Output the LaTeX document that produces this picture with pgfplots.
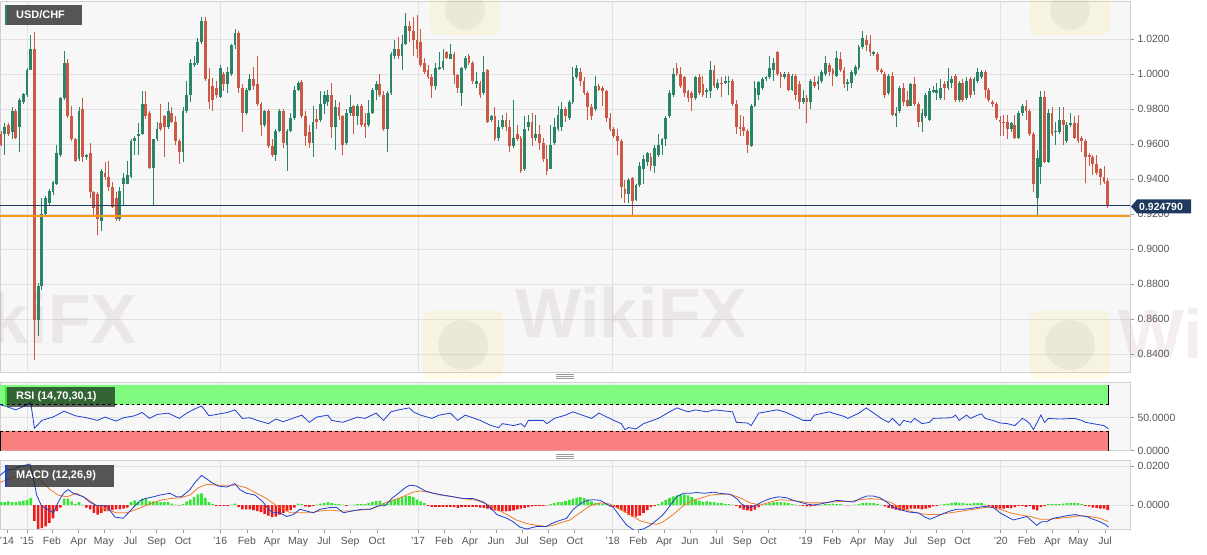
\documentclass[border=0pt]{standalone}
\usepackage{fontspec}
\setmainfont{Liberation Sans}
\usepackage{pgfplots}
\usepackage{pgfplotstable}
\pgfplotsset{compat=1.18}

\definecolor{bgc}{HTML}{F7F7F7}
\definecolor{gridc}{HTML}{E2E2E2}
\definecolor{framec}{HTML}{D0D0D0}
\definecolor{labc}{HTML}{555555}
\definecolor{upc}{HTML}{2A8466}
\definecolor{dnc}{HTML}{CC5846}
\definecolor{navy}{HTML}{1F3A5F}
\definecolor{orangec}{HTML}{F39A1E}
\definecolor{rsigreen}{HTML}{80FA80}
\definecolor{rsired}{HTML}{FA8080}
\definecolor{linec}{HTML}{2040D0}
\definecolor{sigc}{HTML}{F07D2A}
\definecolor{histg}{HTML}{33E633}
\definecolor{histr}{HTML}{F01818}

% weekly candles, w = week index (0 = first week of 2015)
\pgfplotstableread{
w o h l c
-7 0.9657 0.9677 0.9586 0.9596
-6 0.9657 0.9718 0.9536 0.9698
-5 0.9708 0.9718 0.9647 0.9657
-4 0.9667 0.9809 0.9627 0.9789
-3 0.9789 0.9800 0.9630 0.9637
-2 0.9698 0.9860 0.9556 0.9850
-1 0.9839 0.9890 0.9830 0.9884
0 0.9880 1.0032 0.9870 1.0022
1 1.0022 1.0224 1.0020 1.0143
2 1.0143 1.0241 0.8364 0.8593
3 0.8593 0.8806 0.8502 0.8786
4 0.8786 0.9292 0.8766 0.9201
5 0.9201 0.9300 0.9190 0.9292
6 0.9262 0.9340 0.9250 0.9333
7 0.9323 0.9390 0.9310 0.9384
8 0.9374 0.9596 0.9364 0.9546
9 0.9536 0.9870 0.9526 0.9860
10 0.9860 1.0133 0.9850 1.0062
11 1.0062 1.0083 0.9748 0.9758
12 0.9758 0.9819 0.9617 0.9627
13 0.9627 0.9637 0.9495 0.9505
14 0.9515 0.9809 0.9505 0.9789
15 0.9799 0.9860 0.9495 0.9526
16 0.9526 0.9545 0.9510 0.9536
17 0.9546 0.9606 0.9292 0.9323
18 0.9323 0.9330 0.9191 0.9232
19 0.9313 0.9323 0.9080 0.9171
20 0.9161 0.9455 0.9100 0.9444
21 0.9434 0.9495 0.9394 0.9414
22 0.9414 0.9505 0.9333 0.9353
23 0.9353 0.9384 0.9232 0.9242
24 0.9292 0.9323 0.9161 0.9171
25 0.9171 0.9353 0.9161 0.9333
26 0.9374 0.9434 0.9252 0.9404
27 0.9374 0.9505 0.9370 0.9424
28 0.9414 0.9627 0.9404 0.9617
29 0.9617 0.9647 0.9536 0.9637
30 0.9647 0.9718 0.9536 0.9657
31 0.9657 0.9900 0.9650 0.9829
32 0.9829 0.9900 0.9740 0.9758
33 0.9779 0.9789 0.9455 0.9465
34 0.9465 0.9630 0.9252 0.9627
35 0.9627 0.9728 0.9617 0.9688
36 0.9718 0.9829 0.9677 0.9688
37 0.9758 0.9768 0.9526 0.9698
38 0.9698 0.9839 0.9688 0.9789
39 0.9779 0.9809 0.9718 0.9728
40 0.9728 0.9758 0.9596 0.9617
41 0.9617 0.9627 0.9485 0.9556
42 0.9556 0.9809 0.9495 0.9789
43 0.9789 0.9961 0.9779 0.9880
44 0.9880 1.0083 0.9839 1.0062
45 1.0052 1.0103 1.0042 1.0062
46 1.0062 1.0204 1.0052 1.0184
47 1.0184 1.0326 1.0174 1.0305
48 1.0305 1.0326 0.9961 0.9971
49 0.9971 1.0032 0.9799 0.9839
50 0.9931 0.9975 0.9790 0.9850
51 0.9921 0.9961 0.9860 0.9880
52 0.9870 1.0052 0.9860 1.0032
53 1.0002 1.0012 0.9900 0.9941
54 0.9941 1.0042 0.9890 1.0012
55 1.0002 1.0174 0.9990 1.0164
56 1.0164 1.0255 1.0143 1.0234
57 1.0234 1.0245 0.9890 0.9921
58 0.9921 0.9941 0.9667 0.9779
59 0.9779 0.9921 0.9768 0.9910
60 0.9910 1.0002 0.9900 0.9971
61 0.9971 1.0042 0.9910 0.9931
62 0.9941 1.0103 0.9819 0.9829
63 0.9829 0.9839 0.9647 0.9708
64 0.9708 0.9795 0.9698 0.9789
65 0.9789 0.9799 0.9576 0.9586
66 0.9586 0.9627 0.9526 0.9536
67 0.9536 0.9688 0.9505 0.9677
68 0.9677 0.9799 0.9667 0.9789
69 0.9789 0.9799 0.9576 0.9606
70 0.9596 0.9688 0.9444 0.9677
71 0.9677 0.9779 0.9667 0.9748
72 0.9748 0.9931 0.9738 0.9910
73 0.9910 0.9961 0.9900 0.9951
74 0.9957 0.9965 0.9748 0.9758
75 0.9758 0.9789 0.9586 0.9647
76 0.9667 0.9708 0.9576 0.9606
77 0.9606 0.9819 0.9526 0.9728
78 0.9742 0.9799 0.9688 0.9728
79 0.9738 0.9900 0.9728 0.9829
80 0.9829 0.9900 0.9769 0.9880
81 0.9839 0.9910 0.9819 0.9880
82 0.9880 0.9951 0.9637 0.9698
83 0.9698 0.9850 0.9566 0.9809
84 0.9809 0.9839 0.9738 0.9758
85 0.9758 0.9768 0.9536 0.9596
86 0.9606 0.9799 0.9596 0.9779
87 0.9779 0.9880 0.9758 0.9809
88 0.9819 0.9825 0.9657 0.9758
89 0.9758 0.9829 0.9708 0.9819
90 0.9819 0.9829 0.9698 0.9708
91 0.9718 0.9779 0.9637 0.9698
92 0.9708 0.9850 0.9698 0.9779
93 0.9779 0.9921 0.9769 0.9910
94 0.9910 0.9961 0.9850 0.9941
95 0.9941 1.0002 0.9870 0.9880
96 0.9880 0.9900 0.9677 0.9688
97 0.9688 0.9900 0.9556 0.9890
98 0.9890 1.0123 0.9880 1.0113
99 1.0103 1.0194 1.0083 1.0143
100 1.0143 1.0214 1.0083 1.0103
101 1.0103 1.0224 1.0022 1.0174
102 1.0174 1.0346 1.0164 1.0275
103 1.0275 1.0305 1.0184 1.0245
104 1.0245 1.0326 1.0103 1.0194
105 1.0194 1.0336 1.0093 1.0143
106 1.0184 1.0255 1.0042 1.0052
107 1.0062 1.0093 1.0002 1.0012
108 1.0022 1.0052 0.9971 0.9981
109 0.9981 1.0002 0.9860 0.9931
110 0.9931 1.0062 0.9910 1.0032
111 1.0032 1.0123 1.0022 1.0042
112 1.0032 1.0143 1.0022 1.0073
113 1.0123 1.0133 1.0083 1.0093
114 1.0083 1.0174 1.0083 1.0113
115 1.0113 1.0123 0.9941 0.9992
116 0.9992 1.0002 0.9890 0.9921
117 0.9890 1.0042 0.9819 1.0032
118 1.0032 1.0103 1.0022 1.0093
119 1.0103 1.0113 1.0052 1.0062
120 1.0062 1.0073 0.9941 0.9961
121 0.9941 1.0012 0.9921 0.9961
122 0.9951 0.9961 0.9860 0.9880
123 0.9890 1.0103 0.9880 1.0012
124 1.0022 1.0030 0.9718 0.9728
125 0.9738 0.9768 0.9728 0.9758
126 0.9758 0.9809 0.9617 0.9627
127 0.9637 0.9738 0.9617 0.9698
128 0.9698 0.9768 0.9688 0.9738
129 0.9738 0.9779 0.9677 0.9698
130 0.9698 0.9738 0.9556 0.9586
131 0.9586 0.9850 0.9576 0.9637
132 0.9657 0.9708 0.9617 0.9627
133 0.9637 0.9647 0.9434 0.9444
134 0.9455 0.9758 0.9444 0.9688
135 0.9698 0.9768 0.9677 0.9728
136 0.9728 0.9779 0.9586 0.9637
137 0.9637 0.9768 0.9617 0.9657
138 0.9657 0.9708 0.9566 0.9606
139 0.9606 0.9637 0.9495 0.9515
140 0.9515 0.9596 0.9424 0.9444
141 0.9455 0.9708 0.9455 0.9596
142 0.9606 0.9748 0.9596 0.9698
143 0.9688 0.9819 0.9677 0.9768
144 0.9698 0.9839 0.9677 0.9799
145 0.9799 0.9809 0.9728 0.9758
146 0.9748 0.9850 0.9738 0.9839
147 0.9839 1.0042 0.9830 0.9981
148 0.9981 1.0052 0.9971 1.0032
149 1.0012 1.0032 0.9931 0.9961
150 0.9961 0.9981 0.9880 0.9890
151 0.9890 0.9900 0.9738 0.9809
152 0.9809 0.9829 0.9738 0.9758
153 0.9799 0.9991 0.9789 0.9931
154 0.9931 0.9941 0.9900 0.9910
155 0.9921 0.9931 0.9819 0.9900
156 0.9900 0.9910 0.9728 0.9748
157 0.9748 0.9779 0.9677 0.9688
158 0.9688 0.9698 0.9637 0.9647
159 0.9647 0.9688 0.9536 0.9617
160 0.9617 0.9627 0.9292 0.9353
161 0.9343 0.9394 0.9262 0.9313
162 0.9313 0.9404 0.9262 0.9394
163 0.9404 0.9410 0.9187 0.9272
164 0.9282 0.9374 0.9272 0.9363
165 0.9363 0.9495 0.9353 0.9475
166 0.9455 0.9536 0.9374 0.9515
167 0.9495 0.9556 0.9475 0.9546
168 0.9526 0.9546 0.9444 0.9475
169 0.9475 0.9596 0.9434 0.9576
170 0.9536 0.9657 0.9526 0.9596
171 0.9596 0.9637 0.9536 0.9627
172 0.9627 0.9758 0.9586 0.9748
173 0.9758 0.9910 0.9748 0.9890
174 0.9880 1.0032 0.9870 1.0002
175 1.0032 1.0062 0.9991 1.0002
176 1.0002 1.0042 0.9921 0.9931
177 0.9981 0.9991 0.9870 0.9890
178 0.9900 0.9910 0.9839 0.9860
179 0.9890 0.9900 0.9789 0.9860
180 0.9860 0.9991 0.9850 0.9981
181 0.9981 1.0002 0.9880 0.9890
182 0.9941 0.9991 0.9870 0.9880
183 0.9900 0.9921 0.9860 0.9910
184 0.9900 1.0073 0.9860 1.0022
185 1.0022 1.0052 0.9921 0.9931
186 0.9921 0.9971 0.9910 0.9951
187 0.9951 0.9981 0.9870 0.9941
188 0.9951 0.9991 0.9941 0.9961
189 0.9957 0.9991 0.9880 0.9961
190 0.9961 0.9971 0.9819 0.9829
191 0.9829 0.9850 0.9657 0.9698
192 0.9698 0.9768 0.9647 0.9688
193 0.9698 0.9758 0.9647 0.9677
194 0.9677 0.9688 0.9546 0.9596
195 0.9586 0.9829 0.9580 0.9819
196 0.9819 0.9961 0.9809 0.9921
197 0.9880 0.9961 0.9850 0.9957
198 0.9921 0.9981 0.9910 0.9971
199 0.9971 0.9991 0.9961 0.9981
200 0.9981 1.0103 0.9971 1.0032
201 1.0022 1.0093 0.9961 1.0062
202 1.0123 1.0133 0.9991 1.0002
203 1.0002 1.0012 0.9921 0.9981
204 0.9981 1.0012 0.9971 1.0002
205 1.0002 1.0012 0.9900 0.9910
206 0.9910 1.0002 0.9900 0.9991
207 0.9991 1.0002 0.9850 0.9880
208 0.9941 0.9961 0.9799 0.9839
209 0.9839 0.9910 0.9829 0.9864
210 0.9860 0.9880 0.9718 0.9839
211 0.9839 0.9971 0.9799 0.9961
212 0.9957 0.9991 0.9921 0.9931
213 0.9941 0.9991 0.9910 0.9961
214 0.9961 1.0022 0.9951 1.0012
215 1.0002 1.0103 0.9991 1.0062
216 1.0052 1.0062 0.9991 1.0012
217 1.0022 1.0032 0.9931 1.0002
218 0.9991 1.0133 0.9981 1.0093
219 1.0083 1.0123 1.0012 1.0022
220 1.0022 1.0042 0.9921 0.9941
221 0.9941 0.9971 0.9900 0.9957
222 0.9951 1.0022 0.9921 1.0012
223 1.0002 1.0052 0.9991 1.0042
224 1.0032 1.0164 1.0022 1.0154
225 1.0154 1.0245 1.0143 1.0204
226 1.0194 1.0224 1.0133 1.0164
227 1.0174 1.0224 1.0103 1.0123
228 1.0113 1.0133 1.0103 1.0123
229 1.0113 1.0123 1.0012 1.0022
230 1.0022 1.0032 1.0002 1.0012
231 1.0002 1.0012 0.9860 0.9880
232 0.9890 1.0002 0.9880 0.9991
233 0.9991 1.0012 0.9758 0.9768
234 0.9758 0.9809 0.9698 0.9779
235 0.9789 0.9931 0.9779 0.9921
236 0.9921 0.9951 0.9819 0.9839
237 0.9850 0.9900 0.9809 0.9819
238 0.9819 0.9951 0.9819 0.9941
239 0.9941 0.9981 0.9819 0.9829
240 0.9829 0.9839 0.9698 0.9728
241 0.9728 0.9799 0.9667 0.9779
242 0.9758 0.9890 0.9748 0.9880
243 0.9738 0.9921 0.9730 0.9900
244 0.9900 0.9931 0.9890 0.9910
245 0.9890 0.9951 0.9850 0.9910
246 0.9860 0.9971 0.9850 0.9921
247 0.9941 0.9961 0.9850 0.9921
248 0.9921 1.0032 0.9910 0.9961
249 0.9951 0.9991 0.9921 0.9971
250 0.9991 1.0002 0.9839 0.9850
251 0.9850 0.9961 0.9839 0.9951
252 0.9951 0.9971 0.9839 0.9850
253 0.9860 0.9981 0.9850 0.9961
254 0.9971 0.9981 0.9860 0.9880
255 0.9900 0.9981 0.9880 0.9971
256 0.9961 1.0032 0.9951 1.0012
257 0.9981 1.0022 0.9971 1.0012
258 1.0012 1.0022 0.9860 0.9910
259 0.9910 0.9921 0.9839 0.9850
260 0.9839 0.9850 0.9809 0.9829
261 0.9829 0.9839 0.9738 0.9748
262 0.9738 0.9758 0.9647 0.9728
263 0.9728 0.9768 0.9647 0.9718
264 0.9728 0.9768 0.9627 0.9688
265 0.9688 0.9728 0.9667 0.9718
266 0.9708 0.9768 0.9627 0.9637
267 0.9637 0.9789 0.9627 0.9779
268 0.9779 0.9829 0.9758 0.9819
269 0.9819 0.9850 0.9738 0.9789
270 0.9789 0.9799 0.9647 0.9657
271 0.9657 0.9667 0.9323 0.9374
272 0.9290 0.9566 0.9183 0.9520
273 0.9469 0.9900 0.9374 0.9869
274 0.9869 0.9900 0.9490 0.9497
275 0.9497 0.9799 0.9490 0.9779
276 0.9779 0.9809 0.9647 0.9657
277 0.9667 0.9728 0.9596 0.9677
278 0.9667 0.9809 0.9657 0.9738
279 0.9738 0.9809 0.9596 0.9708
280 0.9617 0.9728 0.9606 0.9708
281 0.9708 0.9779 0.9698 0.9718
282 0.9718 0.9758 0.9627 0.9637
283 0.9718 0.9768 0.9606 0.9617
284 0.9637 0.9647 0.9556 0.9617
285 0.9617 0.9627 0.9378 0.9526
286 0.9536 0.9546 0.9475 0.9526
287 0.9526 0.9536 0.9424 0.9485
288 0.9485 0.9536 0.9424 0.9434
289 0.9455 0.9465 0.9363 0.9414
290 0.9414 0.9475 0.9374 0.9384
291 0.9390 0.9404 0.9236 0.9248
}\prices

\pgfplotstableread{
w v
-7.3 70
-5 66
-3 62
-1 67
1 73
2 34
4 46
7 51
10 60
13 53
16 50
19 46
21 51
24 45
26 50
29 53
31 58
33 49
35 55
38 57
41 49
43 57
45 63
47 68
49 53
52 56
54 58
56 62
58 49
60 50
62 46
65 41
67 48
69 44
72 50
74 54
76 43
78 51
81 54
82 46
85 43
89 51
91 49
94 57
96 46
98 59
100 62
103 65
104 59
106 54
109 49
111 54
114 57
116 46
118 54
122 46
125 38
127 35
128 41
131 38
133 41
134 36
135 46
139 46
140 41
142 49
145 54
147 59
152 49
154 57
158 46
160 41
161 32
162 35
164 33
166 41
170 49
173 59
175 65
178 59
180 62
183 59
185 62
190 59
191 43
194 42
195 38
197 57
202 62
204 59
206 54
209 46
211 46
212 54
216 59
217 57
220 52
221 49
224 57
226 65
228 57
230 49
232 43
233 49
235 38
236 46
238 43
239 49
241 41
243 43
244 49
249 50
250 54
251 46
253 54
254 49
256 54
257 56
258 49
260 46
262 42
264 41
266 38
268 49
269 46
270 41
271 32
272 43
273 54
274 43
275 49
278 48
282 49
284 46
285 43
287 41
289 39
290 38
291.2 33
}\rsi

\pgfplotstableread{
w v
-7.3 0.0152
-5.5 0.0179
-3.7 0.0183
-1.9 0.0198
0.8 0.0210
1.7 0.0143
2.6 0.0051
3.9 -0.0004
7.1 -0.0040
8.4 0.0015
9.8 0.0060
11.1 0.0079
12.5 0.0060
15.2 0.0042
16.9 0.0015
18.8 -0.0004
21.4 -0.0004
23.7 -0.0062
25.9 -0.0068
27.3 -0.0040
28.6 -0.0013
30.4 0.0022
31.8 0.0033
34.0 0.0042
35.8 0.0051
38.5 0.0060
40.3 0.0042
41.6 0.0042
43.9 0.0079
45.2 0.0115
47.0 0.0152
48.4 0.0134
49.7 0.0115
51.5 0.0097
53.8 0.0092
56.0 0.0110
57.3 0.0079
59.1 0.0060
61.4 0.0051
63.6 0.0015
65.0 -0.0022
66.3 -0.0040
68.1 -0.0040
69.9 -0.0059
71.7 -0.0049
73.5 -0.0022
75.3 -0.0031
77.1 -0.0040
78.9 -0.0022
81.6 -0.0013
83.4 -0.0013
85.2 -0.0040
87.4 -0.0031
90.1 -0.0022
92.4 -0.0022
94.6 -0.0004
96.4 -0.0004
98.2 0.0033
100.0 0.0060
101.8 0.0088
103.1 0.0102
104.9 0.0097
107.2 0.0072
109.4 0.0060
112.1 0.0051
114.8 0.0042
117.5 0.0033
120.2 0.0033
122.9 0.0015
124.7 -0.0013
126.5 -0.0049
129.2 -0.0068
130.9 -0.0086
132.7 -0.0113
134.5 -0.0123
137.2 -0.0110
139.9 -0.0110
141.3 -0.0095
142.6 -0.0085
145.3 -0.0068
147.1 -0.0022
148.9 0.0005
150.7 0.0024
152.5 0.0027
154.3 0.0024
156.1 0.0005
157.9 -0.0013
159.7 -0.0059
161.5 -0.0104
163.7 -0.0132
166.0 -0.0123
167.8 -0.0104
169.6 -0.0077
171.3 -0.0049
173.1 -0.0004
174.9 0.0042
176.7 0.0060
178.5 0.0060
180.3 0.0064
182.6 0.0060
184.8 0.0066
186.6 0.0060
189.3 0.0055
191.1 0.0033
192.4 0.0005
194.2 -0.0013
196.0 -0.0004
197.8 0.0015
200.1 0.0033
202.3 0.0042
204.6 0.0037
206.3 0.0024
208.1 0.0015
209.9 0.0005
211.7 0.0000
213.5 0.0005
216.2 0.0015
218.0 0.0024
220.3 0.0020
222.5 0.0015
224.3 0.0033
226.1 0.0046
227.9 0.0046
229.7 0.0037
231.5 0.0015
233.3 -0.0013
235.5 -0.0026
237.7 -0.0037
240.0 -0.0040
241.8 -0.0062
243.1 -0.0073
244.9 -0.0059
246.7 -0.0044
248.5 -0.0031
250.3 -0.0022
252.1 -0.0022
253.9 -0.0018
255.7 -0.0013
257.9 -0.0007
260.2 -0.0013
262.0 -0.0040
263.8 -0.0059
265.6 -0.0077
267.4 -0.0068
269.2 -0.0059
270.5 -0.0081
271.9 -0.0104
273.2 -0.0086
274.5 -0.0086
276.3 -0.0068
278.1 -0.0062
279.9 -0.0055
282.2 -0.0049
283.5 -0.0055
285.3 -0.0059
287.1 -0.0073
288.9 -0.0086
290.3 -0.0099
291.2 -0.0113
}\macdline

\pgfplotstableread{
w v
-7.3 0.0115
-3.7 0.0143
-0.1 0.0161
1.7 0.0161
3.9 0.0124
6.2 0.0079
8.4 0.0051
10.7 0.0042
13.4 0.0060
16.1 0.0033
18.8 -0.0004
21.4 -0.0022
24.1 -0.0040
26.8 -0.0040
29.5 -0.0022
31.8 -0.0004
33.1 0.0005
35.8 0.0024
38.5 0.0033
41.2 0.0037
43.9 0.0051
46.1 0.0088
48.4 0.0106
51.1 0.0102
53.8 0.0101
56.4 0.0102
59.1 0.0088
61.8 0.0060
64.5 0.0033
67.2 -0.0004
69.5 -0.0022
70.8 -0.0040
73.5 -0.0040
76.2 -0.0040
78.9 -0.0031
81.6 -0.0026
84.3 -0.0031
87.0 -0.0031
89.7 -0.0026
92.4 -0.0022
95.0 -0.0004
96.8 0.0015
98.6 0.0024
100.4 0.0037
102.2 0.0051
104.0 0.0066
105.8 0.0072
108.5 0.0065
111.2 0.0051
114.8 0.0042
117.5 0.0033
121.1 0.0024
123.8 0.0005
126.5 -0.0022
129.2 -0.0049
131.8 -0.0077
134.5 -0.0095
137.2 -0.0104
139.9 -0.0110
141.7 -0.0104
143.5 -0.0092
146.2 -0.0077
148.9 -0.0040
151.6 -0.0004
154.3 0.0011
157.0 0.0005
159.7 -0.0022
162.4 -0.0049
165.1 -0.0081
167.8 -0.0095
169.6 -0.0099
171.3 -0.0086
174.0 -0.0049
176.7 -0.0004
179.4 0.0024
182.6 0.0042
183.9 0.0051
186.6 0.0055
189.3 0.0055
192.0 0.0037
194.7 0.0011
197.4 0.0000
200.1 0.0015
202.8 0.0027
205.4 0.0024
208.1 0.0018
210.8 0.0011
213.5 0.0011
216.2 0.0015
218.9 0.0018
221.6 0.0018
224.3 0.0027
227.0 0.0033
229.7 0.0029
232.4 0.0015
235.1 -0.0013
237.7 -0.0031
240.4 -0.0044
243.1 -0.0049
245.8 -0.0049
248.5 -0.0040
251.2 -0.0033
254.8 -0.0022
257.9 -0.0013
259.3 -0.0010
262.0 -0.0022
264.7 -0.0040
267.4 -0.0051
270.1 -0.0059
272.8 -0.0073
275.4 -0.0073
278.1 -0.0068
280.8 -0.0062
283.5 -0.0055
286.2 -0.0059
288.9 -0.0068
291.2 -0.0086
}\signal

\pgfplotstableread{
w v
-7 0.0015
-6 0.0015
-5 0.0018
-4 0.0015
-3 0.0015
-2 0.0018
-1 0.0022
0 0.0026
1 0.0037
2 -0.0082
3 -0.0123
4 -0.0119
5 -0.0110
6 -0.0092
7 -0.0068
8 -0.0031
9 -0.0013
10 0.0033
11 0.0033
12 0.0018
13 0.0004
14 0.0015
15 0.0002
16 -0.0013
17 -0.0022
18 -0.0040
19 -0.0049
20 -0.0040
21 -0.0031
22 -0.0031
23 -0.0026
24 -0.0022
25 -0.0022
26 -0.0018
27 -0.0013
28 0.0015
29 0.0024
30 0.0015
31 0.0033
32 0.0037
33 0.0018
34 0.0018
35 0.0018
36 0.0015
37 0.0015
38 0.0015
39 0.0007
40 0.0002
41 -0.0002
42 0.0005
43 0.0018
44 0.0027
45 0.0040
46 0.0055
47 0.0060
48 0.0037
49 0.0015
50 0.0004
51 -0.0004
52 -0.0005
53 -0.0005
54 -0.0005
55 0.0002
56 0.0007
57 -0.0011
58 -0.0022
59 -0.0022
60 -0.0022
61 -0.0026
62 -0.0031
63 -0.0037
64 -0.0046
65 -0.0055
66 -0.0062
67 -0.0059
68 -0.0049
69 -0.0040
70 -0.0033
71 -0.0026
72 -0.0013
73 0.0007
74 0.0005
75 -0.0007
76 -0.0009
77 -0.0005
78 0.0002
79 0.0007
80 0.0011
81 0.0015
82 0.0009
83 0.0005
84 0.0004
85 0.0002
86 -0.0004
87 0.0001
88 0.0002
89 0.0004
90 0.0005
91 0.0005
92 0.0009
93 0.0016
94 0.0020
95 0.0022
96 0.0009
97 0.0007
98 0.0022
99 0.0029
100 0.0037
101 0.0040
102 0.0046
103 0.0046
104 0.0040
105 0.0027
106 0.0018
107 0.0009
108 -0.0004
109 -0.0009
110 -0.0009
111 -0.0009
112 -0.0009
113 -0.0009
114 -0.0009
115 -0.0011
116 -0.0015
117 -0.0011
118 -0.0009
119 -0.0009
120 -0.0009
121 -0.0009
122 -0.0013
123 -0.0015
124 -0.0018
125 -0.0024
126 -0.0027
127 -0.0031
128 -0.0033
129 -0.0033
130 -0.0031
131 -0.0027
132 -0.0022
133 -0.0018
134 -0.0015
135 -0.0011
136 -0.0007
137 -0.0005
138 -0.0004
139 -0.0004
140 -0.0002
141 0.0004
142 0.0009
143 0.0015
144 0.0015
145 0.0020
146 0.0026
147 0.0033
148 0.0038
149 0.0040
150 0.0035
151 0.0027
152 0.0018
153 0.0011
154 0.0009
155 0.0005
156 0.0004
157 -0.0007
158 -0.0009
159 -0.0016
160 -0.0027
161 -0.0038
162 -0.0051
163 -0.0059
164 -0.0059
165 -0.0055
166 -0.0040
167 -0.0026
168 -0.0011
169 -0.0005
170 0.0005
171 0.0016
172 0.0026
173 0.0037
174 0.0044
175 0.0049
176 0.0053
177 0.0055
178 0.0049
179 0.0040
180 0.0029
181 0.0022
182 0.0016
183 0.0018
184 0.0016
185 0.0015
186 0.0011
187 0.0009
188 0.0005
189 0.0004
190 0.0002
191 -0.0005
192 -0.0016
193 -0.0024
194 -0.0027
195 -0.0031
196 -0.0024
197 -0.0011
198 0.0004
199 0.0007
200 0.0011
201 0.0013
202 0.0015
203 0.0015
204 0.0013
205 0.0009
206 0.0005
207 0.0002
208 -0.0002
209 -0.0005
210 -0.0007
211 -0.0007
212 -0.0005
213 -0.0002
214 0.0002
215 0.0004
216 0.0005
217 0.0007
218 0.0005
219 0.0005
220 0.0001
221 -0.0002
222 0.0001
223 0.0002
224 0.0005
225 0.0009
226 0.0011
227 0.0011
228 0.0009
229 0.0005
230 0.0001
231 -0.0007
232 -0.0015
233 -0.0018
234 -0.0024
235 -0.0027
236 -0.0026
237 -0.0022
238 -0.0018
239 -0.0018
240 -0.0018
241 -0.0022
242 -0.0018
243 -0.0013
244 -0.0007
245 -0.0004
246 0.0002
247 0.0005
248 0.0007
249 0.0011
250 0.0013
251 0.0011
252 0.0009
253 0.0007
254 0.0007
255 0.0009
256 0.0009
257 0.0011
258 0.0002
259 -0.0007
260 -0.0013
261 -0.0018
262 -0.0018
263 -0.0018
264 -0.0015
265 -0.0016
266 -0.0011
267 -0.0004
268 -0.0004
269 -0.0009
270 -0.0005
271 -0.0022
272 -0.0027
273 -0.0011
274 -0.0004
275 0.0004
276 0.0004
277 0.0004
278 0.0005
279 0.0007
280 0.0009
281 0.0011
282 0.0011
283 0.0009
284 0.0005
285 -0.0004
286 -0.0007
287 -0.0013
288 -0.0015
289 -0.0018
290 -0.0018
291 -0.0026
}\hist

\pgfplotsset{
  panel/.style={
    scale only axis, width=1130bp,
    xmin=-7.27, xmax=297,
    axis background/.style={fill=bgc},
    axis line style={draw=framec, line width=0.8bp},
    ytick pos=right, yticklabel pos=right,
    tick align=outside, major tick length=4bp,
    ytick style={draw=labc!60, line width=0.6bp},
    ticklabel style={font=\fontsize{10.5}{12}\selectfont, text=labc},
    grid style={draw=gridc, line width=0.7bp},
    ymajorgrids, scaled y ticks=false, scaled x ticks=false,
  },
  yearsgrid/.style={
    xtick={0,52,105.3,157.7,209.7,262.2}, xticklabels={},
    xmajorgrids, xtick style={draw=none},
  },
  candle/.style 2 args={draw=none, mark=none,
    error bars/y dir=both, error bars/y explicit, error bars/error mark=none,
    error bars/error bar style={draw=#1, line width=#2}},
}

\begin{document}
\begin{tikzpicture}
\useasboundingbox (0,0) rectangle (1207bp,555bp);

% ---------- price panel ----------
\begin{axis}[panel, yearsgrid,
  at={(0,183bp)}, anchor=south west, height=371bp,
  ymin=0.8297, ymax=1.04171,
  ytick={0.84,0.86,0.88,0.90,0.92,0.94,0.96,0.98,1.00,1.02},
  yticklabels={0.8400,0.8600,0.8800,0.9000,0.9200,0.9400,0.9600,0.9800,1.0000,1.0200},
]
\addplot[restrict expr to domain={\thisrow{c}-\thisrow{o}}{0:1}, candle={upc}{0.9bp}]
  table[x=w, y expr={(\thisrow{h}+\thisrow{l})/2}, y error expr={(\thisrow{h}-\thisrow{l})/2}] {\prices};
\addplot[restrict expr to domain={\thisrow{c}-\thisrow{o}}{-1:0}, candle={dnc}{0.9bp}]
  table[x=w, y expr={(\thisrow{h}+\thisrow{l})/2}, y error expr={(\thisrow{h}-\thisrow{l})/2}] {\prices};
\addplot[restrict expr to domain={\thisrow{c}-\thisrow{o}}{0:1}, candle={upc}{2.8bp}]
  table[x=w, y expr={(\thisrow{o}+\thisrow{c})/2}, y error expr={abs(\thisrow{c}-\thisrow{o})/2}] {\prices};
\addplot[restrict expr to domain={\thisrow{c}-\thisrow{o}}{-1:0}, candle={dnc}{2.8bp}]
  table[x=w, y expr={(\thisrow{o}+\thisrow{c})/2}, y error expr={abs(\thisrow{c}-\thisrow{o})/2}] {\prices};
\addplot[navy, line width=0.9bp] coordinates {(-8,0.924790) (300,0.924790)};
\addplot[orangec, line width=2bp] coordinates {(-8,0.9186) (300,0.9186)};
\end{axis}

% ---------- RSI panel ----------
\begin{axis}[panel, yearsgrid,
  at={(0,104.45bp)}, anchor=south west, height=67.85bp,
  ymin=0, ymax=103.4,
  ytick={0,50}, yticklabels={0.0000,50.0000},
]
\addplot[fill=rsigreen, draw=none] coordinates {(-7.27,70) (291.3,70) (291.3,100) (-7.27,100) (-7.27,70)};
\addplot[fill=rsired, draw=none] coordinates {(-7.27,0) (291.3,0) (291.3,30) (-7.27,30) (-7.27,0)};
\addplot[black, dashed, line width=0.6bp] coordinates {(-7.27,70) (291.3,70)};
\addplot[black, dashed, line width=0.6bp] coordinates {(-7.27,30) (291.3,30)};
\addplot[black, line width=0.8bp] coordinates {(291.3,70) (291.3,100)};
\addplot[black, line width=0.8bp] coordinates {(291.3,0) (291.3,30)};
\addplot[black, line width=1bp] coordinates {(-7.2,0) (-7.2,30)};
\addplot[linec, line width=0.8bp] table[x=w, y=v] {\rsi};
\end{axis}

% ---------- MACD panel ----------
\begin{axis}[panel,
  at={(0,25.7bp)}, anchor=south west, height=68.6bp,
  ymin=-0.01246, ymax=0.02272,
  ytick={0,0.02}, yticklabels={0.0000,0.0200},
  xtick pos=bottom,
  xtick style={draw=labc!60, line width=0.6bp},
  xtick={-5.4,0,6.7,13.9,20.7,27.9,34.9,42,52,59.2,66,73,80,87,94.2,105.3,112.3,119.3,126.3,133.3,140.4,147.5,157.7,164.6,171.6,178.5,185.7,192.6,199.6,209.7,216.8,223.8,230.8,237.9,244.9,251.9,262.2,269.2,276.1,283.1,290.3},
  xticklabels={'14,'15,Feb,Apr,May,Jul,Sep,Oct,'16,Feb,Apr,May,Jul,Sep,Oct,'17,Feb,Apr,Jun,Jul,Sep,Oct,'18,Feb,Apr,Jun,Jul,Sep,Oct,'19,Feb,Apr,May,Jul,Sep,Oct,'20,Feb,Apr,May,Jul},
  extra x ticks={0,52,105.3,157.7,209.7,262.2}, extra x tick labels={},
  extra x tick style={grid=major, major tick length=0pt},
]
\addplot[ybar, bar width=2.6bp, bar shift=0pt, fill=histg, draw=none, restrict y to domain=0:1]
  table[x=w, y=v] {\hist};
\addplot[ybar, bar width=2.6bp, bar shift=0pt, fill=histr, draw=none, restrict y to domain=-1:0]
  table[x=w, y=v] {\hist};
\addplot[sigc, line width=0.8bp] table[x=w, y=v] {\signal};
\addplot[linec, line width=0.8bp] table[x=w, y=v] {\macdline};
\end{axis}

% ---------- watermarks ----------
\begin{scope}[opacity=0.09]
  \fill[yellow!70!orange, rounded corners=8bp] (423bp,176bp) rectangle (503bp,244bp);
  \fill[gray] (463bp,210bp) circle (25bp);
  \fill[yellow!70!orange, rounded corners=8bp] (1030bp,176bp) rectangle (1110bp,244bp);
  \fill[gray] (1070bp,210bp) circle (25bp);
  \fill[yellow!70!orange, rounded corners=8bp] (430bp,520bp) rectangle (500bp,575bp);
  \fill[gray] (465bp,545bp) circle (20bp);
  \fill[yellow!70!orange, rounded corners=8bp] (1030bp,520bp) rectangle (1110bp,575bp);
  \fill[gray] (1070bp,545bp) circle (20bp);
\end{scope}
\begin{scope}[opacity=0.11]
  \node[anchor=west, text=gray!80!red, font=\bfseries\fontsize{70}{70}\selectfont, inner sep=0] at (515bp,243bp) {WikiFX};
  \node[anchor=west, text=gray!80!red, font=\bfseries\fontsize{70}{70}\selectfont, inner sep=0] at (-95bp,237bp) {WikiFX};
  \node[anchor=west, text=gray!80!red, font=\bfseries\fontsize{70}{70}\selectfont, inner sep=0] at (1118bp,222bp) {Wi};
\end{scope}

% ---------- panel grips ----------
\foreach \yy in {176.5,178.5,180.5,96.5,98.5,100.5}
  \draw[gray!80, line width=0.7bp] (556bp,\yy bp) -- (574bp,\yy bp);

% ---------- labels ----------
\fill[gray!25!black, opacity=0.75] (5bp,530bp) rectangle (82bp,550bp);
\fill[upc] (5bp,530bp) rectangle (7bp,550bp);
\node[anchor=west, text=white, font=\bfseries\fontsize{11}{12}\selectfont, inner sep=0] at (16bp,540bp) {USD/CHF};

\fill[black, opacity=0.6] (5bp,148bp) rectangle (115bp,168bp);
\fill[histg] (5bp,148bp) rectangle (7bp,168bp);
\node[anchor=west, text=white, font=\bfseries\fontsize{11}{12}\selectfont, inner sep=0] at (16bp,158bp) {RSI (14,70,30,1)};

\fill[gray!25!black, opacity=0.75] (5bp,68bp) rectangle (114bp,90bp);
\fill[linec] (5bp,68bp) rectangle (7bp,90bp);
\node[anchor=west, text=white, font=\bfseries\fontsize{11}{12}\selectfont, inner sep=0] at (16bp,79bp) {MACD (12,26,9)};

\fill[navy] (1131bp,348.5bp) -- (1137bp,355.5bp) -- (1191bp,355.5bp) -- (1191bp,341.5bp) -- (1137bp,341.5bp) -- cycle;
\node[anchor=west, text=white, font=\bfseries\fontsize{10.5}{12}\selectfont, inner sep=0] at (1139bp,348.5bp) {0.924790};
\end{tikzpicture}
\end{document}
